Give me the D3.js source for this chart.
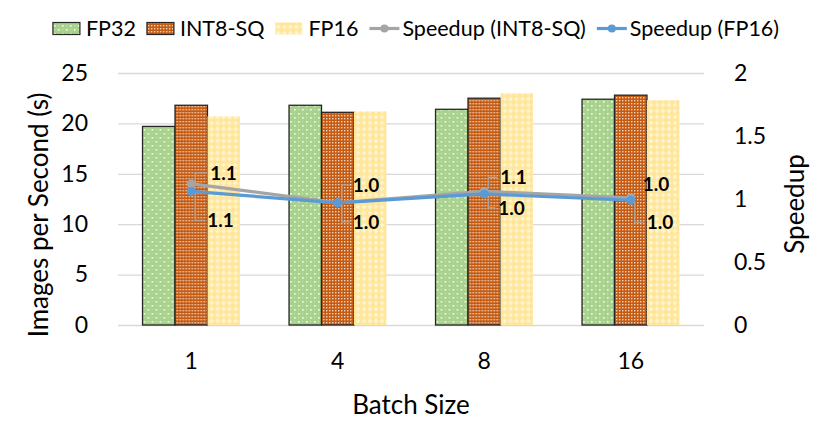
<!DOCTYPE html>
<html>
<head>
<meta charset="utf-8">
<script src="https://cdn.jsdelivr.net/npm/d3@7"></script>
<style>
  html, body { margin: 0; padding: 0; background: #fff; }
  svg { display: block; font-family: Lato, "Open Sans", sans-serif; }
</style>
</head>
<body>
<svg id="chart" width="830" height="442"></svg>
<script>
// ---------------- DATA ----------------
const categories = ["1", "4", "8", "16"];
const barSeries = ["FP32", "INT8-SQ", "FP16"];
const fp32 = [19.7, 21.8, 21.4, 22.4];
const int8sq = [21.8, 21.1, 22.5, 22.8];
const fp16 = [20.7, 21.2, 23.0, 22.3];
const speedupInt8 = [1.12, 0.97, 1.06, 1.01];
const speedupFp16 = [1.06, 0.97, 1.04, 0.99];
const leftTicks = [0, 5, 10, 15, 20, 25];
const rightTicks = [0, 0.5, 1, 1.5, 2];
const lineSeries = ["Speedup (INT8-SQ)", "Speedup (FP16)"];

// ---------------- LAYOUT ----------------
const svg = d3.select("#chart");
const plot = { left: 118, right: 704, top: 73, bottom: 325 };

const defs = svg.append("defs");
const p1 = defs.append("pattern").attr("id", "pFP32").attr("patternUnits", "userSpaceOnUse")
  .attr("width", 8).attr("height", 8);
p1.append("rect").attr("width", 8).attr("height", 8).attr("fill", "#a9d18e");
[[1, 1], [5, 5]].forEach(([x, y]) => p1.append("rect").attr("x", x).attr("y", y)
  .attr("width", 1.6).attr("height", 1.6).attr("fill", "#ffffff").attr("opacity", 0.9));
[[5, 1], [1, 5]].forEach(([x, y]) => p1.append("rect").attr("x", x).attr("y", y)
  .attr("width", 1.2).attr("height", 1.2).attr("fill", "#ffffff").attr("opacity", 0.35));
const p2 = defs.append("pattern").attr("id", "pINT8").attr("patternUnits", "userSpaceOnUse")
  .attr("width", 3).attr("height", 3);
p2.append("rect").attr("width", 3).attr("height", 3).attr("fill", "#c55a11");
p2.append("rect").attr("x", 1).attr("y", 1).attr("width", 1.4).attr("height", 1.4)
  .attr("fill", "#ffffff").attr("opacity", 0.75);
const p3 = defs.append("pattern").attr("id", "pFP16").attr("patternUnits", "userSpaceOnUse")
  .attr("width", 6).attr("height", 6);
p3.append("rect").attr("width", 6).attr("height", 6).attr("fill", "#ffe699");
p3.append("path").attr("d", "M3,0.6 L5.4,3 L3,5.4 L0.6,3 Z").attr("fill", "#fff6da").attr("opacity", 0.85);

const fills = { "FP32": "url(#pFP32)", "INT8-SQ": "url(#pINT8)", "FP16": "url(#pFP16)" };
const strokes = { "FP32": "#262626", "INT8-SQ": "#262626", "FP16": "none" };
const lineColors = { "Speedup (INT8-SQ)": "#a5a5a5", "Speedup (FP16)": "#5b9bd5" };

const x0 = d3.scaleBand().domain(categories).range([plot.left, plot.right])
  .paddingInner(0.335).paddingOuter(0.1675);
const x1 = d3.scaleBand().domain(barSeries).range([0, x0.bandwidth()]).padding(0);
const yL = d3.scaleLinear().domain([0, 25]).range([plot.bottom, plot.top]);
const yR = d3.scaleLinear().domain([0, 2]).range([plot.bottom, plot.top]);

// gridlines
svg.append("g").selectAll("line").data(leftTicks).join("line")
  .attr("x1", plot.left).attr("x2", plot.right)
  .attr("y1", d => yL(d) + 0.5).attr("y2", d => yL(d) + 0.5)
  .attr("stroke", "#d9d9d9").attr("stroke-width", 1.3);

const tickFont = 23;
const axL = svg.append("g").attr("transform", `translate(${plot.left - 30},0)`)
  .call(d3.axisLeft(yL).tickValues(leftTicks).tickSize(0).tickPadding(0));
axL.select(".domain").remove();
axL.selectAll("text").attr("font-size", tickFont).attr("fill", "#000").attr("font-family", "Lato, sans-serif");

const axR = svg.append("g").attr("transform", `translate(${plot.right + 30},0)`)
  .call(d3.axisRight(yR).tickValues(rightTicks).tickSize(0).tickPadding(0).tickFormat(d3.format("")));
axR.select(".domain").remove();
axR.selectAll("text").attr("font-size", tickFont).attr("fill", "#000").attr("font-family", "Lato, sans-serif");

const axB = svg.append("g").attr("transform", `translate(0,${plot.bottom + 28})`)
  .call(d3.axisBottom(x0).tickSize(0).tickPadding(0));
axB.select(".domain").remove();
axB.selectAll("text").attr("font-size", tickFont).attr("fill", "#000").attr("font-family", "Lato, sans-serif");

// bars
const barData = categories.map((c, i) => ({
  cat: c,
  vals: [
    { s: "FP32", v: fp32[i] },
    { s: "INT8-SQ", v: int8sq[i] },
    { s: "FP16", v: fp16[i] }
  ]
}));
svg.append("g").selectAll("g").data(barData).join("g")
  .attr("transform", d => `translate(${x0(d.cat)},0)`)
  .selectAll("rect").data(d => d.vals).join("rect")
  .attr("x", d => x1(d.s)).attr("width", x1.bandwidth())
  .attr("y", d => yL(d.v)).attr("height", d => yL(0) - yL(d.v))
  .attr("fill", d => fills[d.s])
  .attr("stroke", d => strokes[d.s]).attr("stroke-width", 1.3);

// lines
const cx = c => x0(c) + x0.bandwidth() / 2;
const lineData = [
  { name: "Speedup (INT8-SQ)", vals: speedupInt8 },
  { name: "Speedup (FP16)", vals: speedupFp16 }
];
const lineGen = d3.line().x((d, i) => cx(categories[i])).y(d => yR(d));
lineData.forEach(ld => {
  svg.append("path").datum(ld.vals).attr("d", lineGen)
    .attr("fill", "none").attr("stroke", lineColors[ld.name]).attr("stroke-width", 3.2)
    .attr("stroke-linejoin", "round");
  svg.append("g").selectAll("circle").data(ld.vals).join("circle")
    .attr("cx", (d, i) => cx(categories[i])).attr("cy", d => yR(d)).attr("r", 4.5)
    .attr("fill", lineColors[ld.name]);
});

// data labels with leader lines (offsets relative to point)
const labelOffsets = {
  "Speedup (INT8-SQ)": [{ dx: 19, dy: -11, lead: true }, { dx: 15, dy: -18, lead: true }, { dx: 16, dy: -14, lead: true }, { dx: 12, dy: -14, lead: false }],
  "Speedup (FP16)": [{ dx: 16, dy: 29, lead: true }, { dx: 15, dy: 19, lead: true }, { dx: 14, dy: 14, lead: true }, { dx: 16, dy: 22, lead: true }]
};
const fmt = d3.format(".1f");
const lblG = svg.append("g");
lineData.forEach(ld => {
  ld.vals.forEach((v, i) => {
    const px = cx(categories[i]), py = yR(v);
    const o = labelOffsets[ld.name][i];
    const tx = px + o.dx, ty = py + o.dy;
    if (o.lead) {
      const lx = px + 4;
      lblG.append("path")
        .attr("d", `M${lx},${py + (o.dy < 0 ? -3 : 3)} L${lx},${ty} L${tx - 3},${ty}`)
        .attr("fill", "none").attr("stroke", "#a6a6a6").attr("stroke-width", 1.2);
    }
    lblG.append("text").attr("x", tx).attr("y", ty).attr("dy", "0.36em")
      .attr("font-size", 19).attr("font-weight", "bold").attr("fill", "#000")
      .text(fmt(v));
  });
});

// axis titles
svg.append("text").attr("transform", `translate(48,215) rotate(-90)`)
  .attr("text-anchor", "middle").attr("font-size", 26).attr("fill", "#000")
  .text("Images per Second (s)");
svg.append("text").attr("transform", `translate(804,204) rotate(-90)`)
  .attr("text-anchor", "middle").attr("font-size", 26).attr("fill", "#000")
  .text("Speedup");
svg.append("text").attr("x", 411).attr("y", 414)
  .attr("text-anchor", "middle").attr("font-size", 26).attr("fill", "#000")
  .text("Batch Size");

// legend
const legendItems = [
  ...barSeries.map(s => ({ name: s, type: "bar" })),
  ...lineSeries.map(s => ({ name: s, type: "line" }))
];
const lg = svg.append("g");
let lx = 0;
const ly = 28.5;
legendItems.forEach(it => {
  const g = lg.append("g").attr("transform", `translate(${lx},0)`);
  let w;
  if (it.type === "bar") {
    g.append("rect").attr("x", 0).attr("y", ly - 6).attr("width", 27).attr("height", 12)
      .attr("fill", fills[it.name]).attr("stroke", strokes[it.name]).attr("stroke-width", 1.2);
    w = 33;
  } else {
    g.append("line").attr("x1", 0).attr("x2", 30).attr("y1", ly).attr("y2", ly)
      .attr("stroke", lineColors[it.name]).attr("stroke-width", 3.2);
    g.append("circle").attr("cx", 15).attr("cy", ly).attr("r", 4).attr("fill", lineColors[it.name]);
    w = 33;
  }
  const t = g.append("text").attr("x", w).attr("y", ly).attr("dy", "0.36em")
    .attr("font-size", 21.5).attr("fill", "#000").text(it.name);
  lx += w + t.node().getComputedTextLength() + 11;
});
const totalW = lx - 11;
lg.attr("transform", `translate(${416 - totalW / 2},0)`);
</script>
</body>
</html>
